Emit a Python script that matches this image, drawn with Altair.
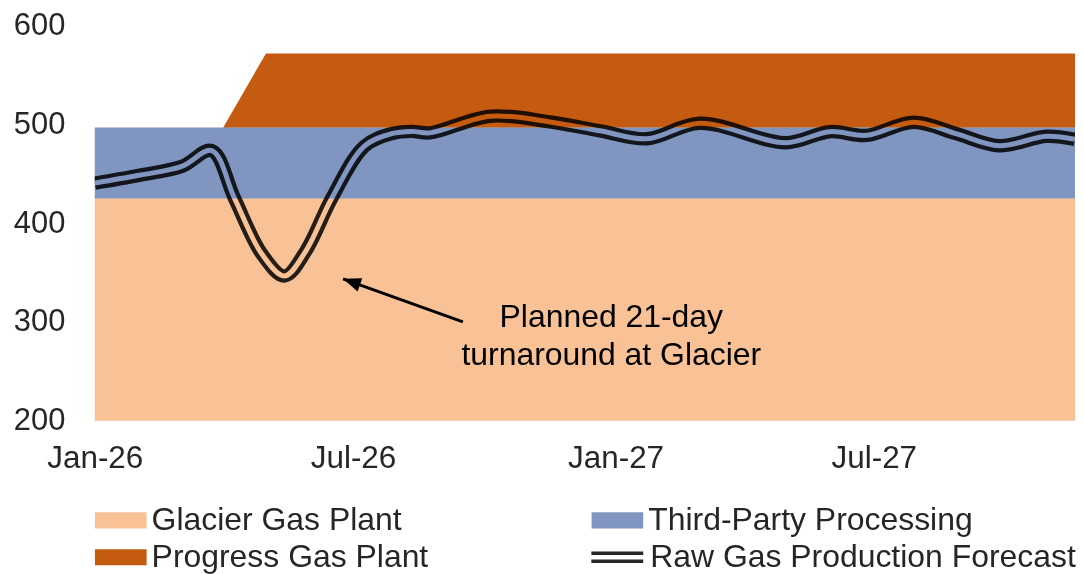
import altair as alt
import pandas as pd

# ---- data ----
months = ["2026-01-01", "2026-02-01", "2026-03-01", "2026-04-01", "2026-05-01", "2026-06-01",
          "2026-07-01", "2026-08-01", "2026-09-01", "2026-10-01", "2026-11-01", "2026-12-01",
          "2027-01-01", "2027-02-01", "2027-03-01", "2027-04-01", "2027-05-01", "2027-06-01",
          "2027-07-01", "2027-08-01", "2027-09-01", "2027-10-01", "2027-11-01", "2027-12-01"]
glacier = [425, 425, 425, 425, 425, 425, 425, 425, 425, 425, 425, 425,
           425, 425, 425, 425, 425, 425, 425, 425, 425, 425, 425, 425]
third_party = [72, 72, 72, 72, 72, 72, 72, 72, 72, 72, 72, 72,
               72, 72, 72, 72, 72, 72, 72, 72, 72, 72, 72, 72]
progress = [0, 0, 0, 0, 75, 75, 75, 75, 75, 75, 75, 75,
            75, 75, 75, 75, 75, 75, 75, 75, 75, 75, 75, 75]

forecast_dates = ["2026-01-01", "2026-02-01", "2026-03-03", "2026-03-24", "2026-04-09", "2026-04-28",
                  "2026-05-14", "2026-05-29", "2026-06-16", "2026-07-09", "2026-07-28", "2026-08-11",
                  "2026-08-24", "2026-10-05", "2026-11-16", "2026-12-21", "2027-01-23", "2027-03-01",
                  "2027-04-30", "2027-05-31", "2027-06-26", "2027-07-29", "2027-08-28", "2027-09-27",
                  "2027-10-30", "2027-11-19"]
forecast = [440.6, 448.5, 457.5, 473.5, 425, 369,
            346.6, 372, 425, 478, 490.7, 493,
            491.5, 508.4, 502.6, 493.6, 485.5, 501.3,
            481.5, 492.7, 489, 502.3, 490.5, 478.5,
            488, 485]

area_names = ["Glacier Gas Plant", "Third-Party Processing", "Progress Gas Plant"]
area_colors = ["#F8C196", "#8096C0", "#C55A11"]
line_name = "Raw Gas Production Forecast"
line_color = "#262626"

y_ticks = [200, 300, 400, 500, 600]

anno_text = ["Planned 21-day\nturnaround at Glacier"]
anno_text_date = ["2026-12-29"]
anno_text_value = [305.2]
arrow_tail_date = ["2026-09-16"]
arrow_tail_value = [300]
arrow_tip_date = ["2026-06-24"]
arrow_tip_value = [343.6]

# ---- tables ----
rows = []
for i, m in enumerate(months):
    for k, vals in enumerate([glacier, third_party, progress]):
        rows.append({"date": m, "series": area_names[k], "value": vals[i], "order": k})
area_df = pd.DataFrame(rows)
line_df = pd.DataFrame({"date": forecast_dates, "value": forecast, "series": line_name})
anno_df = pd.DataFrame({"tx": anno_text_date, "ty": anno_text_value, "label": anno_text,
                        "ax": arrow_tail_date, "ay": arrow_tail_value,
                        "bx": arrow_tip_date, "by": arrow_tip_value})

FONT = "Liberation Sans"
TXT = "#262626"

tick_dates = [alt.DateTime(year=2026, month=1, date=1, utc=True),
              alt.DateTime(year=2026, month=7, date=1, utc=True),
              alt.DateTime(year=2027, month=1, date=1, utc=True),
              alt.DateTime(year=2027, month=7, date=1, utc=True)]

x_scale = alt.Scale(type="utc",
                    domain=[alt.DateTime(year=2026, month=1, date=1, utc=True),
                            alt.DateTime(year=2027, month=11, date=19, utc=True)],
                    clamp=True)
y_scale = alt.Scale(domain=[200, 600], clamp=True, nice=False, zero=False)

x_axis = alt.Axis(values=tick_dates, labelExpr="utcFormat(datum.value, '%b-%y')", title=None,
                  domain=False, ticks=False, grid=False, labelFontSize=31.5, labelFont=FONT,
                  labelColor=TXT, labelPadding=22, labelFlush=False,
                  labelOverlap=False, labelBound=False)
y_axis = alt.Axis(values=y_ticks, title=None, domain=False, ticks=False, grid=False,
                  labelFontSize=31, labelFont=FONT, labelColor=TXT, labelPadding=30)

RECT = "M-1,-0.31H1V0.31H-1Z"
DOUBLE = "M-1,-0.154H1M-1,0.154H1"

area_legend = alt.Legend(
    title=None, orient="none", legendX=0, legendY=477.5, columns=2, direction="horizontal",
    symbolType=RECT, symbolSize=2704, symbolStrokeWidth=0, symbolOpacity=1,
    labelFontSize=32, labelFont=FONT, labelColor=TXT, clipHeight=37,
    labelOffset=5, columnPadding=163, rowPadding=0, padding=0, labelLimit=600)
line_legend = alt.Legend(
    title=None, orient="none", legendX=496, legendY=505,
    symbolType=DOUBLE, symbolSize=2704, symbolStrokeWidth=3.5, symbolOpacity=1,
    labelFontSize=32, labelFont=FONT, labelColor=TXT,
    labelOffset=5, padding=0, labelLimit=600)

CURVE = "catmull-rom"

legend_line = alt.Chart(line_df).mark_line(strokeWidth=4, interpolate=CURVE, clip=True).encode(
    x=alt.X("date:T", scale=x_scale, axis=x_axis),
    y=alt.Y("value:Q", scale=y_scale, axis=y_axis),
    color=alt.Color("series:N", scale=alt.Scale(domain=[line_name], range=[line_color]),
                    legend=line_legend),
)
line_outer = alt.Chart(line_df).mark_line(strokeWidth=13.5, interpolate=CURVE, clip=True,
                                          color=line_color).encode(
    x="date:T", y="value:Q")
line_inner = alt.Chart(line_df).mark_line(strokeWidth=5, interpolate=CURVE, clip=True,
                                          color="white").encode(
    x="date:T", y="value:Q")

areas = alt.Chart(area_df).mark_area(blend="multiply", interpolate="linear").encode(
    x="date:T",
    y=alt.Y("value:Q", stack="zero"),
    color=alt.Color("series:N", scale=alt.Scale(domain=area_names, range=area_colors),
                    legend=area_legend),
    order=alt.Order("order:Q"),
)

arrow_line = alt.Chart(anno_df).mark_rule(strokeWidth=3, color="black").encode(
    x="ax:T", y="ay:Q", x2="bx:T", y2="by:Q")
arrow_head = alt.Chart(anno_df).mark_point(shape="M0,0L0.7,1.8L-0.7,1.8Z", filled=True,
                                           size=400, angle=289.7, color="black",
                                           opacity=1, strokeWidth=0).encode(
    x="bx:T", y="by:Q")
anno = alt.Chart(anno_df).mark_text(align="center", baseline="middle", fontSize=32, font=FONT,
                                    color="black", lineBreak="\n", lineHeight=38).encode(
    x="tx:T", y="ty:Q", text="label:N")

chart = alt.layer(legend_line, line_outer, line_inner, areas, arrow_line, arrow_head, anno).resolve_scale(
    color="independent"
).properties(
    width=983, height=396,
    padding={"left": 5, "top": 1, "right": 0, "bottom": 0},
    background="white",
).configure_view(stroke=None)

chart.save("out.html", embed_options={"renderer": "svg", "actions": False})
